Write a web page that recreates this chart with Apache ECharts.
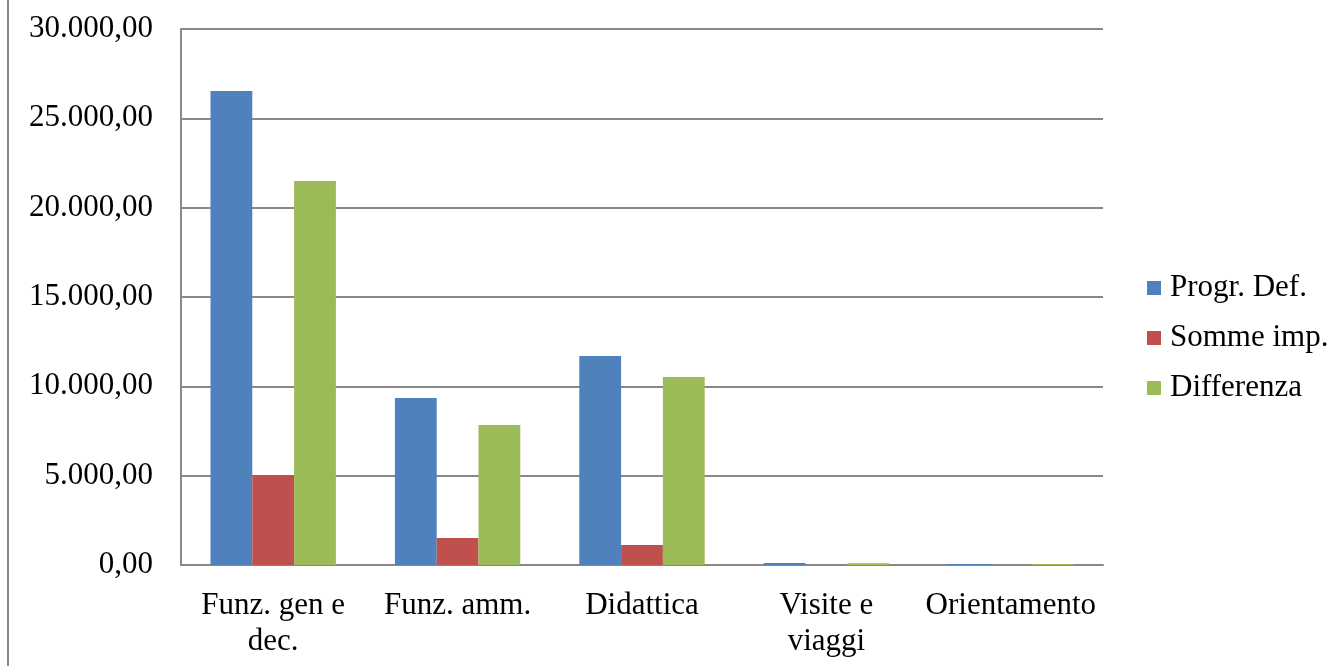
<!DOCTYPE html>
<html>
<head>
<meta charset="utf-8">
<script src="https://cdn.jsdelivr.net/npm/echarts@6/dist/echarts.min.js"></script>
<style>
html,body{margin:0;padding:0;background:#fff;}
#chart{width:1335px;height:666px;}
</style>
</head>
<body>
<div id="chart"></div>
<script>
const categories = ['Funz. gen e\ndec.', 'Funz. amm.', 'Didattica', 'Visite e\nviaggi', 'Orientamento'];
const progrDef = [26530, 9350, 11700, 110, 60];
const sommeImp = [5040, 1510, 1120, 0, 0];
const differenza = [21490, 7840, 10520, 100, 50];
const seriesNames = ['Progr. Def.', 'Somme imp.', 'Differenza'];

function fmt(v) {
  const parts = Math.round(v).toString().replace(/\B(?=(\d{3})+(?!\d))/g, '.');
  return parts + ',00';
}

const font = 'Liberation Serif, Times New Roman, serif';
const chart = echarts.init(document.getElementById('chart'));
chart.setOption({
  animation: false,
  backgroundColor: '#fff',
  grid: { left: 181, right: 232, top: 29, bottom: 101, containLabel: false },
  legend: {
    orient: 'vertical',
    left: 1142,
    top: 267,
    itemWidth: 14,
    itemHeight: 14,
    itemGap: 18,
    icon: 'rect',
    textStyle: { fontFamily: font, fontSize: 31, color: '#000', lineHeight: 32, padding: [0, 0, 0, 4] },
    data: seriesNames
  },
  xAxis: {
    type: 'category',
    data: categories,
    axisLine: { show: true, lineStyle: { color: '#888', width: 2 } },
    axisTick: { show: false },
    axisLabel: { fontFamily: font, fontSize: 31, color: '#000', lineHeight: 36, margin: 23, interval: 0 }
  },
  yAxis: {
    type: 'value',
    min: 0,
    max: 30000,
    interval: 5000,
    axisLine: { show: true, lineStyle: { color: '#888', width: 2 } },
    axisTick: { show: false },
    splitLine: { show: true, lineStyle: { color: '#888', width: 2 } },
    axisLabel: { fontFamily: font, fontSize: 31, color: '#000', margin: 28, formatter: fmt }
  },
  series: [
    { name: seriesNames[0], type: 'bar', data: progrDef, itemStyle: { color: '#4F81BD' }, barGap: '0%', barCategoryGap: '32%' },
    { name: seriesNames[1], type: 'bar', data: sommeImp, itemStyle: { color: '#C0504D' }, barGap: '0%', barCategoryGap: '32%' },
    { name: seriesNames[2], type: 'bar', data: differenza, itemStyle: { color: '#9BBB59' }, barGap: '0%', barCategoryGap: '32%' }
  ],
  graphic: [
    { type: 'line', shape: { x1: 8, y1: 0, x2: 8, y2: 666 }, style: { stroke: '#888', lineWidth: 2 }, silent: true }
  ]
});
</script>
</body>
</html>
